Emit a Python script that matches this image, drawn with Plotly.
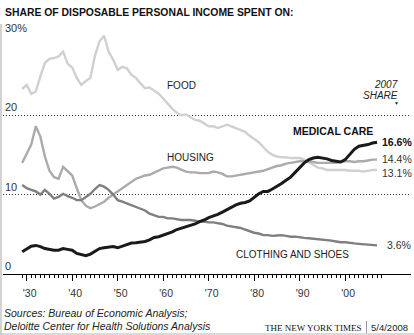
import plotly.graph_objects as go

YEARS = list(range(1929, 2008))

FOOD = [23.3, 23.8, 22.7, 23.0, 24.9, 26.6, 27.1, 27.2, 27.4, 28.0,
        26.5, 26.0, 24.7, 23.8, 24.3, 24.7, 27.5, 29.3, 30.0, 28.0,
        27.0, 25.7, 26.1, 25.9, 25.1, 24.7, 24.0, 23.4, 23.5, 23.1,
        22.7, 22.1, 21.4, 20.8, 20.3, 20.0, 20.1, 19.7, 19.4, 19.3,
        19.0, 18.6, 18.6, 18.4, 18.6, 18.8, 18.6, 18.4, 18.1, 17.9,
        17.4, 17.0, 16.6, 16.0, 15.4, 15.0, 14.8, 14.7, 14.7, 14.6,
        14.6, 14.6, 14.4, 14.1, 13.7, 13.4, 13.3, 13.1, 13.1, 13.1,
        13.1, 13.1, 13.0, 13.0, 13.0, 12.9, 13.0, 13.1, 13.1]

HOUSING = [14.0, 15.2, 16.3, 18.6, 17.3, 14.8, 13.0, 12.2, 12.0, 13.5,
           12.9, 12.4, 10.8, 9.3, 8.6, 8.3, 8.5, 8.8, 9.1, 9.6,
           10.0, 10.4, 10.7, 11.1, 11.6, 12.0, 12.2, 12.4, 12.5, 12.8,
           13.0, 13.3, 13.4, 13.5, 13.4, 13.1, 12.9, 12.8, 12.8, 12.7,
           12.7, 12.7, 12.9, 12.8, 12.6, 12.3, 12.3, 12.4, 12.5, 12.6,
           12.7, 12.8, 12.9, 13.0, 13.2, 13.4, 13.6, 13.7, 13.9, 14.0,
           14.1, 14.2, 14.2, 14.2, 14.1, 14.0, 14.0, 14.0, 14.0, 14.0,
           14.1, 14.2, 14.2, 14.1, 14.2, 14.2, 14.3, 14.4, 14.4]

CLOTHING = [11.2, 10.8, 10.6, 10.4, 10.0, 10.6, 10.1, 9.5, 9.7, 10.1,
            9.8, 9.6, 9.3, 9.3, 9.7, 10.1, 10.7, 11.2, 11.0, 10.6,
            10.0, 9.3, 9.1, 8.9, 8.7, 8.5, 8.2, 8.0, 7.6, 7.4,
            7.2, 7.2, 7.0, 7.0, 6.9, 6.8, 6.8, 6.8, 6.7, 6.6,
            6.6, 6.5, 6.5, 6.4, 6.3, 6.1, 6.0, 5.9, 5.8, 5.6,
            5.4, 5.2, 5.1, 4.9, 4.9, 4.8, 4.85, 4.9, 4.8, 4.7,
            4.7, 4.6, 4.55, 4.5, 4.45, 4.35, 4.3, 4.25, 4.2, 4.1,
            4.0, 4.0, 3.9, 3.85, 3.8, 3.75, 3.7, 3.65, 3.6]

MEDICAL = [2.8, 3.2, 3.5, 3.6, 3.45, 3.2, 3.1, 3.0, 3.0, 3.2,
           3.1, 3.0, 2.6, 2.4, 2.3, 2.5, 2.9, 3.2, 3.3, 3.4,
           3.45, 3.3, 3.5, 3.65, 3.9, 3.95, 4.0, 4.1, 4.3, 4.6,
           4.7, 4.9, 5.1, 5.3, 5.6, 5.8, 5.9, 6.1, 6.3, 6.6,
           6.8, 7.1, 7.3, 7.5, 7.8, 8.1, 8.5, 8.7, 8.9, 9.0,
           9.2, 9.7, 10.1, 10.4, 10.4, 10.7, 11.0, 11.4, 11.8, 12.2,
           12.8, 13.4, 14.0, 14.4, 14.6, 14.7, 14.6, 14.5, 14.3, 14.2,
           14.1, 14.4, 15.0, 15.7, 16.1, 16.2, 16.3, 16.5, 16.6]

DECADES = [1930, 1940, 1950, 1960, 1970, 1980, 1990, 2000]
DECADE_LABELS = ["'30", "'40", "'50", "'60", "'70", "'80", "'90", "'00"]
MINOR_YEARS = [y for y in range(1929, 2009) if y % 10 != 0]
Y_TICKS = [10, 20, 30]
Y_LABELS = [(30, "30%"), (20, "20"), (10, "10"), (0, "0")]

SANS = "Liberation Sans, Arial, Helvetica, sans-serif"
SERIF = "Liberation Serif, Times New Roman, serif"

fig = go.Figure()
series = [
    (FOOD, "#d0d0d0", 2.4),
    (HOUSING, "#ababab", 2.4),
    (CLOTHING, "#7f7f7f", 2.4),
    (MEDICAL, "#1a1a1a", 3.0),
]
for vals, color, w in series:
    fig.add_trace(go.Scatter(x=YEARS, y=vals, mode="lines",
                             line=dict(color=color, width=w, shape="linear"),
                             hoverinfo="skip", showlegend=False))

ann = []
def txt(x, y, text, size=10, color="#222", anchor="left", bold=False, italic=False,
        family=SANS, xref="x", yref="y", yanchor="middle", xshift=0, yshift=0):
    t = text
    if bold:
        t = "<b>" + t + "</b>"
    if italic:
        t = "<i>" + t + "</i>"
    ann.append(dict(x=x, y=y, xref=xref, yref=yref, text=t, showarrow=False,
                    xanchor=anchor, yanchor=yanchor, xshift=xshift, yshift=yshift,
                    borderpad=0,
                    font=dict(size=size, color=color, family=family)))

# y labels above gridlines
for v, lab in Y_LABELS:
    txt(0.003, v, lab, size=11, color="#333", xref="paper", yshift=8)

# series labels
txt(1960.6, 23.7, "FOOD")
txt(1960.6, 14.7, "HOUSING")
txt(2006.4, 18.0, "MEDICAL CARE", size=10.5, color="#111", anchor="right", bold=True)
txt(1975.8, 2.4, "CLOTHING AND SHOES")
txt(2011.8, 23.9, "2007", size=10, color="#222", anchor="right", italic=True)
txt(2011.8, 22.5, "SHARE", size=10, color="#222", anchor="right", italic=True)
txt(2011.2, 21.5, "▼", size=5, color="#222", anchor="center")
txt(2007, 16.6, "16.6%", size=10.5, color="#111", bold=True, xshift=4)
txt(2007, 14.5, "14.4%", size=10.5, color="#333", xshift=4)
txt(2007, 12.75, "13.1%", size=10.5, color="#333", xshift=4)
txt(2007, 3.65, "3.6%", size=10.5, color="#333", xshift=9)

# title and footer in paper coords (plot area: x 3..411 px, y 35..274 px)
def px(xp):
    return (xp - 3) / 408.0
def py(yp):
    return (274 - yp) / 239.0

txt(px(4), py(12.5), "SHARE OF DISPOSABLE PERSONAL INCOME SPENT ON:", size=10.4,
    color="#111", bold=True, xref="paper", yref="paper")
txt(px(3), py(313), "Sources: Bureau of Economic Analysis;", size=10.5, color="#222",
    italic=True, xref="paper", yref="paper")
txt(px(3), py(326), "Deloitte Center for Health Solutions Analysis", size=10.5,
    color="#222", italic=True, xref="paper", yref="paper")
txt(px(363), py(328), "THE NEW YORK TIMES", size=9, color="#111", anchor="right",
    family=SERIF, xref="paper", yref="paper")
txt(px(370), py(327.5), "5/4/2008", size=9.5, color="#222", anchor="left",
    xref="paper", yref="paper")

shapes = [
    dict(type="line", xref="paper", yref="paper", x0=px(1), x1=px(1), y0=py(24), y1=py(335),
         line=dict(color="#b5b5b5", width=1.2)),
    dict(type="line", xref="paper", yref="paper", x0=px(1), x1=px(414), y0=py(334), y1=py(334),
         line=dict(color="#b5b5b5", width=1.2)),
    dict(type="line", xref="paper", yref="paper", x0=px(366.5), x1=px(366.5),
         y0=py(321), y1=py(333), line=dict(color="#999", width=1)),
]

fig.update_layout(
    width=414, height=335,
    margin=dict(l=3, r=3, t=35, b=61, pad=0),
    paper_bgcolor="white", plot_bgcolor="white",
    annotations=ann, shapes=shapes,
    xaxis=dict(range=[1924.79, 2014.46], showgrid=False, zeroline=False,
               showline=True, linecolor="#000", linewidth=1,
               tickmode="array", tickvals=DECADES, ticktext=DECADE_LABELS,
               ticks="outside", ticklen=6, tickwidth=1, tickcolor="#000",
               tickfont=dict(size=10.5, color="#333", family=SANS),
               ticklabelstandoff=3, ticklabelshift=3,
               minor=dict(tickmode="array", tickvals=MINOR_YEARS, ticks="outside",
                          ticklen=3, tickwidth=1, tickcolor="#000", showgrid=False),
               fixedrange=True),
    yaxis=dict(range=[0, 30.1], showgrid=True, gridcolor="#333", gridwidth=1,
               griddash="1px,2px", tickmode="array", tickvals=Y_TICKS,
               showticklabels=False, zeroline=False, showline=False, ticks="",
               fixedrange=True),
    showlegend=False,
)

fig.write_html("out.html")
